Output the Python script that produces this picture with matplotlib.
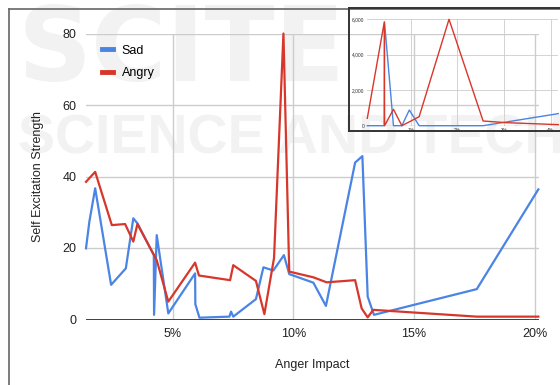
import matplotlib
matplotlib.use('Agg')
import matplotlib.pyplot as plt
from matplotlib.lines import Line2D

plt.rcParams['font.family'] = ['Liberation Sans', 'DejaVu Sans']

# main chart: self excitation strength vs anger impact (%)
sad_x = [1.41, 1.55, 1.79, 2.45, 3.06, 3.37, 3.54, 4.22, 4.23, 4.34, 4.82, 5.93, 5.94,
         6.11, 7.35, 7.42, 7.51, 8.45, 8.76, 9.17, 9.61, 9.83, 10.83, 11.35, 12.56,
         12.86, 13.08, 13.34, 17.60, 20.15]
sad_y = [19.9, 27.4, 36.7, 9.7, 14.3, 28.3, 26.9, 18.0, 1.3, 23.6, 1.7, 12.9, 4.3,
         0.5, 0.8, 2.2, 0.8, 5.7, 14.6, 13.7, 18.0, 12.7, 10.3, 3.8, 43.9,
         45.7, 6.4, 1.3, 8.5, 36.4]

angry_x = [1.41, 1.79, 2.48, 3.03, 3.37, 3.54, 4.34, 4.82, 5.93, 6.09, 7.38, 7.51,
           8.45, 8.80, 9.20, 9.59, 9.83, 10.83, 11.38, 12.56, 12.83, 13.08, 13.31,
           15.11, 17.60, 20.15]
angry_y = [38.5, 41.3, 26.4, 26.7, 21.8, 26.7, 16.6, 5.0, 15.9, 12.3, 11.0, 15.2,
           10.8, 1.5, 17.2, 80.0, 13.4, 11.8, 10.4, 11.0, 3.1, 0.6, 2.7,
           1.9, 0.8, 0.8]

x_ticks = [5, 10, 15, 20]
y_ticks = [0, 20, 40, 60, 80]

# zoomed view of the low anger impact range
inset_sad_x = [0.07, 0.43, 0.44, 0.63, 0.81, 0.97, 1.18, 2.55, 4.16]
inset_sad_y = [0, 0, 5800, 0, 0, 885, 0, 0, 680]
inset_angry_x = [0.07, 0.435, 0.44, 0.63, 0.81, 1.18, 1.82, 2.55, 3.05, 4.16]
inset_angry_y = [417, 5860, 0, 925, 0, 507, 6000, 265, 170, 60]
inset_x_ticks = [1, 2, 3, 4]
inset_y_ticks = [0, 2000, 4000, 6000]

BLUE = '#4a84e4'
RED = '#d7372b'
GRID = '#cccccc'

W, H = 560, 385
fig = plt.figure(figsize=(W / 100, H / 100), dpi=100)
fig.patch.set_facecolor('white')

# faint publisher watermark, kept behind the charts
fig.text(18 / W, 1 - 2 / H, 'SCITE', fontsize=74, fontweight='bold', color='#f2f2f2',
         family='DejaVu Sans', ha='left', va='top', zorder=-5)
fig.text(18 / W, 1 - 140 / H, 'SCIENCE AND TECHNOLOGY', fontsize=40, fontweight='bold',
         color='#f2f2f2', ha='left', va='center', zorder=-5)

# outer frame
fig.add_artist(Line2D([9 / W, 9 / W], [0, 1 - 9 / H], transform=fig.transFigure,
                      color='#666666', lw=1.2))
fig.add_artist(Line2D([9 / W, 1], [1 - 9 / H, 1 - 9 / H], transform=fig.transFigure,
                      color='#666666', lw=1.2))


def px_axes(left, top, right, bottom):
    return [left / W, 1 - bottom / H, (right - left) / W, (bottom - top) / H]


ax = fig.add_axes(px_axes(86, 33.5, 539.3, 319.5))
ax.set_zorder(2)
ax.set_facecolor('none')
ax.plot(sad_x, sad_y, color=BLUE, lw=1.6, label='Sad', zorder=3, clip_on=False)
ax.plot(angry_x, angry_y, color=RED, lw=1.6, label='Angry', zorder=4, clip_on=False)
ax.set_xlim(1.41, 20.19)
ax.set_ylim(0, 80)
ax.set_xticks(x_ticks)
ax.set_xticklabels([f'{t}%' for t in x_ticks])
ax.set_yticks(y_ticks)
ax.tick_params(length=0, labelsize=9, colors='#222222', pad=6)
ax.tick_params(axis='y', pad=7)
ax.grid(True, color=GRID, lw=1)
ax.axhline(0, color='#333333', lw=1.3, zorder=2)
for s in ax.spines.values():
    s.set_visible(False)
ax.set_xlabel('Anger Impact', fontsize=9, color='#222222', labelpad=14)
ax.set_ylabel('Self Excitation Strength', fontsize=9, color='#222222', labelpad=13)
leg = ax.legend(loc='upper left', bbox_to_anchor=(0.01, 1.0), frameon=False, fontsize=9,
                handlelength=0.9, handletextpad=0.7, labelspacing=0.85)
for h in leg.get_lines():
    h.set_linewidth(3.5)

# inset frame and chart
frame = fig.add_axes(px_axes(349, 7.5, 562, 131))
frame.set_zorder(3)
frame.set_facecolor('none')
frame.set_xticks([])
frame.set_yticks([])
for s in frame.spines.values():
    s.set_color('#333333')
    s.set_linewidth(1.4)

ins = fig.add_axes(px_axes(367.3, 19.3, 558.3, 125.7))
ins.set_zorder(4)
ins.set_facecolor('none')
ins.plot(inset_sad_x, inset_sad_y, color=BLUE, lw=1.0, zorder=3, clip_on=False)
ins.plot(inset_angry_x, inset_angry_y, color=RED, lw=1.0, zorder=4, clip_on=False)
ins.set_xlim(0.07, 4.16)
ins.set_ylim(0, 6000)
ins.set_xticks(inset_x_ticks)
ins.set_xticklabels([f'{t}%' for t in inset_x_ticks])
ins.set_yticks(inset_y_ticks)
ins.set_yticklabels([f'{t:,}' for t in inset_y_ticks])
ins.tick_params(length=0, labelsize=3.5, colors='#333333', pad=2)
ins.grid(True, color=GRID, lw=0.6)
ins.axhline(0, color='#333333', lw=0.8, zorder=2)
for s in ins.spines.values():
    s.set_visible(False)

fig.savefig('out.png', dpi=100)
